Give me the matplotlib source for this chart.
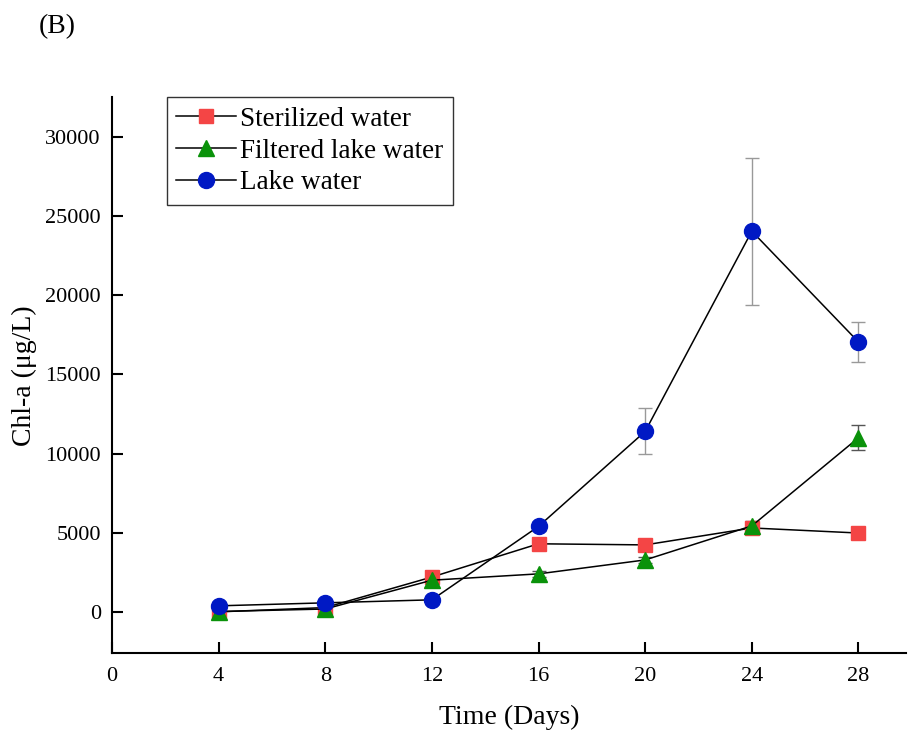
import matplotlib.pyplot as plt
import numpy as np

plt.rcParams['font.family'] = ['Liberation Serif', 'DejaVu Serif']

days = [4, 8, 12, 16, 20, 24, 28]

sterilized = [0, 270, 2200, 4300, 4230, 5300, 4980]
sterilized_err = [100, 100, 200, 150, 150, 200, 150]

filtered = [20, 180, 2000, 2400, 3280, 5430, 11000]
filtered_err = [100, 100, 400, 200, 200, 300, 800]

lake = [380, 570, 760, 5400, 11400, 24050, 17050]
lake_err = [150, 150, 200, 300, 1450, 4650, 1250]

fig = plt.figure(figsize=(9.08, 7.31), dpi=100)
ax = fig.add_axes([0.1233, 0.1067, 0.875, 0.76])

# error bars first, then lines + markers on top
ax.errorbar(days, sterilized, yerr=sterilized_err, fmt='none', ecolor='#666666',
            elinewidth=1, capsize=5, capthick=1)
ax.errorbar(days, filtered, yerr=filtered_err, fmt='none', ecolor='#555555',
            elinewidth=1, capsize=5, capthick=1)
ax.errorbar(days, lake, yerr=lake_err, fmt='none', ecolor='#999999',
            elinewidth=1, capsize=5, capthick=1)

ax.plot(days, sterilized, color='black', lw=1.1, marker='s', ms=10,
        mfc='#f44545', mec='#f44545', label='Sterilized water')
ax.plot(days, filtered, color='black', lw=1.1, marker='^', ms=11,
        mfc='#0a920a', mec='#0a920a', label='Filtered lake water')
ax.plot(days, lake, color='black', lw=1.1, marker='o', ms=11.5,
        mfc='#0019c4', mec='#0019c4', label='Lake water')

ax.set_xlim(0, 29.8)
ax.set_ylim(-2600, 32500)
ax.set_xticks([0, 4, 8, 12, 16, 20, 24, 28])
ax.set_yticks([0, 5000, 10000, 15000, 20000, 25000, 30000])

for side in ['top', 'right']:
    ax.spines[side].set_visible(False)
for side in ['left', 'bottom']:
    ax.spines[side].set_linewidth(1.5)

ax.tick_params(direction='in', length=8, width=1.5, labelsize=16, pad=8)
ax.tick_params(axis='x', pad=10)

ax.set_xlabel('Time (Days)', fontsize=20, labelpad=14)
ax.set_ylabel('Chl-a (\u03bcg/L)', fontsize=20, labelpad=6)

leg = ax.legend(loc='upper left', bbox_to_anchor=(0.069, 1.0), borderaxespad=0,
                fontsize=19.5, frameon=True, fancybox=False, edgecolor='black',
                handlelength=2.2, borderpad=0.35, labelspacing=0.25,
                handletextpad=0.15)
leg.get_frame().set_linewidth(1)

fig.text(0.043, 0.955, '(B)', fontsize=20)

fig.savefig('out.png', dpi=100)
